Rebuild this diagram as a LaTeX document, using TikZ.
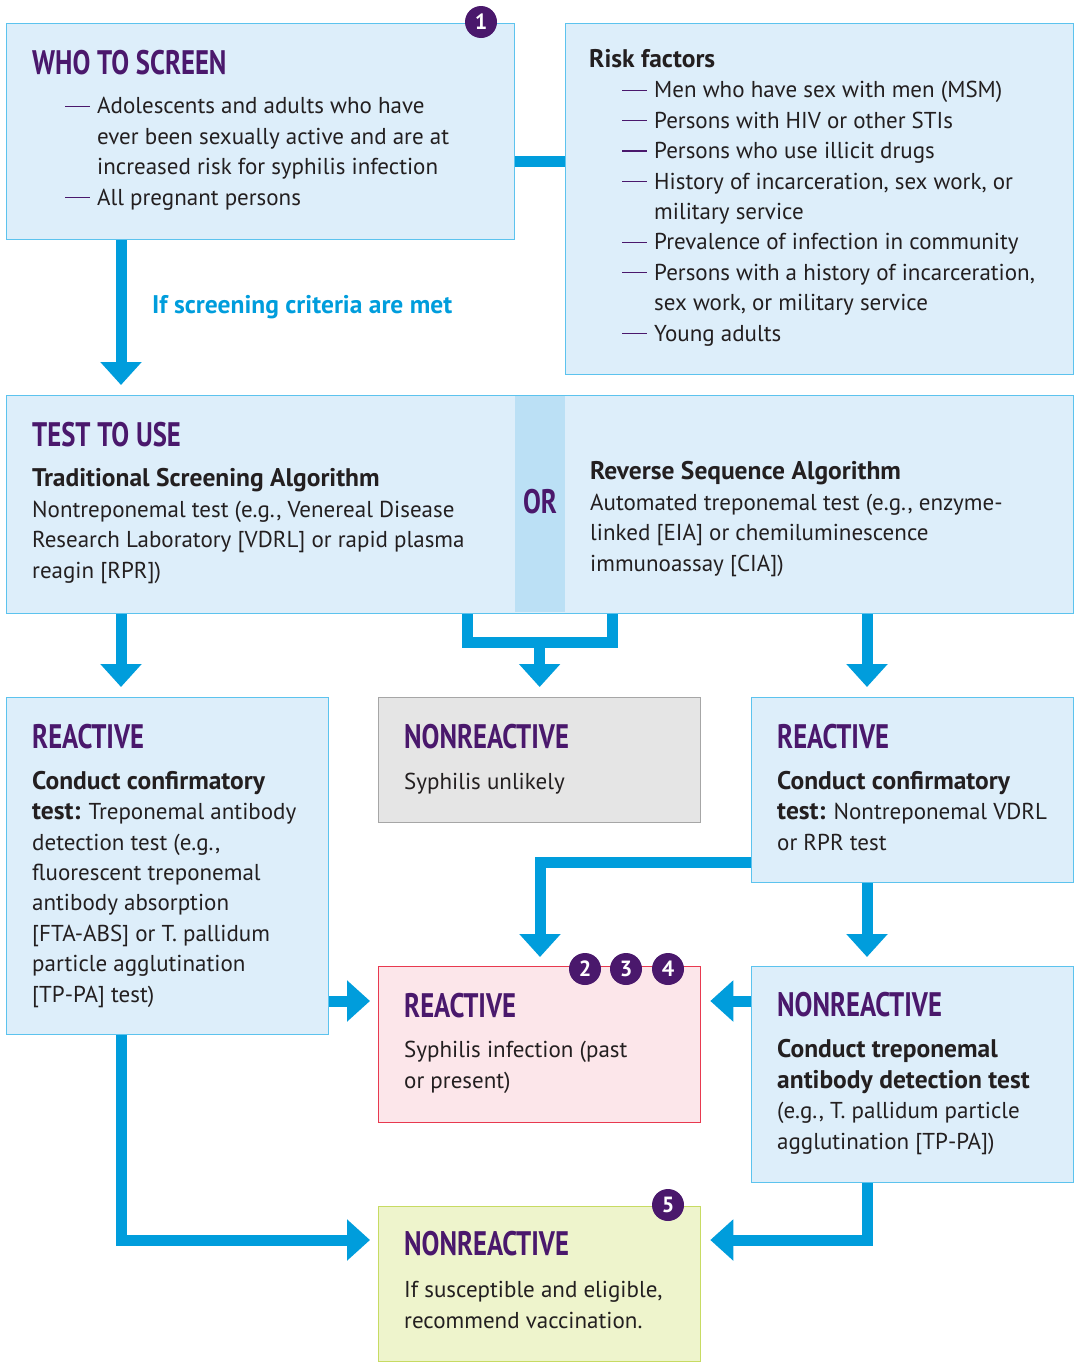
\documentclass[tikz,border=0pt]{standalone}
\usepackage{fontspec}
\setmainfont{PT Sans}
\newfontfamily\headfont[FakeStretch=0.785]{PT Sans}
\usetikzlibrary{arrows.meta}

\definecolor{boxblue}{HTML}{DDEEFA}
\definecolor{lineblue}{HTML}{5CC3EE}
\definecolor{orblue}{HTML}{BBE0F5}
\definecolor{arrowblue}{HTML}{009DDC}
\definecolor{plum}{HTML}{4A186C}
\definecolor{greyfill}{HTML}{E5E5E5}
\definecolor{greyline}{HTML}{A6A6A6}
\definecolor{pinkfill}{HTML}{FCE6EA}
\definecolor{pinkline}{HTML}{E8394F}
\definecolor{greenfill}{HTML}{EEF4CC}
\definecolor{greenline}{HTML}{C7DB63}
\definecolor{ink}{HTML}{231F20}

\newcommand\rdash{\makebox[32pt][l]{\textcolor{plum}{\rule[7pt]{25pt}{1.2pt}}}}
\newcommand\indline{\hspace*{32pt}}
\newcommand\bsub[1]{{\fontsize{25.5}{30.4}\selectfont\bfseries #1}}

\begin{document}
\begin{tikzpicture}[x=1pt,y=-1pt,
        bluebox/.style={rectangle, draw=lineblue, fill=boxblue, line width=1.3pt, anchor=north west, inner sep=0pt},
        greybox/.style={bluebox, draw=greyline, fill=greyfill},
        pinkbox/.style={bluebox, draw=pinkline, fill=pinkfill},
        greenbox/.style={bluebox, draw=greenline, fill=greenfill},
        head/.style={anchor=base west, inner sep=0pt, text=plum, font=\headfont\bfseries\fontsize{34}{34}\selectfont},
        txt/.style={anchor=base west, align=left, inner sep=0pt, text=ink, font=\fontsize{23}{30.4}\selectfont},
        badge/.style={circle, fill=plum, text=white, inner sep=0pt, minimum size=32pt, font=\bfseries\fontsize{22}{22}\selectfont},
        link/.style={draw=arrowblue, line width=11pt},
        flow/.style={link, -{Triangle[width=40pt,length=23pt]}},
        ]

        \useasboundingbox (0,0) rectangle (1077,1363);

        % boxes
        \node[bluebox, minimum width=508pt, minimum height=216pt] (who) at (6,23) {};
        \node[bluebox, minimum width=508pt, minimum height=351pt] (risk) at (565,23) {};
        \node[bluebox, minimum width=1067pt, minimum height=218pt] (test) at (6,395) {};
        \node[rectangle, fill=orblue, inner sep=0pt, minimum width=50pt, minimum height=216pt] (orbar) at (540,504) {};
        \node[bluebox, minimum width=322pt, minimum height=337pt] (reactL) at (6,697) {};
        \node[greybox, minimum width=322pt, minimum height=125pt] (nonG) at (378,697) {};
        \node[bluebox, minimum width=322pt, minimum height=185pt] (reactR) at (751,697) {};
        \node[pinkbox, minimum width=322pt, minimum height=156pt] (reactP) at (378,966) {};
        \node[bluebox, minimum width=322pt, minimum height=216pt] (nonR) at (751,966) {};
        \node[greenbox, minimum width=322pt, minimum height=155pt] (vacc) at (378,1206) {};

        % texts (multi-line nodes sit on their last baseline)
        \node[head] (whoT) at (32,74) {WHO TO SCREEN};
        \node[txt] (whoB) at (65,205) {\rdash Adolescents and adults who have\\
            \indline ever been sexually active and are at\\
            \indline increased risk for syphilis infection\\
            \rdash All pregnant persons};

        \node[txt] (riskT) at (589,67) {\bsub{Risk factors}};
        \node[txt] (riskB) at (622,341) {\rdash Men who have sex with men (MSM)\\
            \rdash Persons with HIV or other STIs\\
            \rdash Persons who use illicit drugs\\
            \rdash History of incarceration, sex work, or\\
            \indline military service\\
            \rdash Prevalence of infection in community\\
            \rdash Persons with a history of incarceration,\\
            \indline sex work, or military service\\
            \rdash Young adults};

        \node[txt, text=arrowblue] (critL) at (152,313) {\bsub{If screening criteria are met}};

        \node[head] (testT) at (32,446) {TEST TO USE};
        \node[txt] (tradB) at (32,578) {\bsub{Traditional Screening Algorithm}\\
            Nontreponemal test (e.g., Venereal Disease\\
            Research Laboratory [VDRL] or rapid plasma\\
            reagin [RPR])};
        \node[head, anchor=base] (orT) at (540,513) {OR};
        \node[txt] (revB) at (590,571) {\bsub{Reverse Sequence Algorithm}\\
            Automated treponemal test (e.g., enzyme-\\
            linked [EIA] or chemiluminescence\\
            immunoassay [CIA])};

        \node[head] (reactLT) at (32,748) {REACTIVE};
        \node[txt] (reactLB) at (32,1002) {\bsub{Conduct confirmatory}\\
            \bsub{test:} Treponemal antibody\\
            detection test (e.g.,\\
            fluorescent treponemal\\
            antibody absorption\\{}%
            [FTA-ABS] or T. pallidum\\
            particle agglutination\\{}%
            [TP-PA] test)};

        \node[head] (nonGT) at (404,748) {NONREACTIVE};
        \node[txt] (nonGB) at (404,789) {Syphilis unlikely};

        \node[head] (reactRT) at (777,748) {REACTIVE};
        \node[txt] (reactRB) at (777,850) {\bsub{Conduct confirmatory}\\
            \bsub{test:} Nontreponemal VDRL\\
            or RPR test};

        \node[head] (reactPT) at (404,1017) {REACTIVE};
        \node[txt] (reactPB) at (404,1088) {Syphilis infection (past\\
            or present)};

        \node[head] (nonRT) at (777,1016) {NONREACTIVE};
        \node[txt] (nonRB) at (777,1149) {\bsub{Conduct treponemal}\\
            \bsub{antibody detection test}\\
            (e.g., T. pallidum particle\\
            agglutination [TP-PA])};

        \node[head] (vaccT) at (404,1255) {NONREACTIVE};
        \node[txt] (vaccB) at (404,1328) {If susceptible and eligible,\\
            recommend vaccination.};

        % connectors
        \coordinate (colL) at (121,0);
        \coordinate (colR) at (867,0);
        \coordinate (legL) at (467,642);
        \coordinate (legR) at (612,642);
        \coordinate (turnA) at (540,862);
        \coordinate (rowP) at (0,1001);
        \coordinate (rowV) at (0,1240);

        \draw[link] ([yshift=-30pt]who.east) -- ([yshift=-30pt]who.east -| risk.west);
        \draw[flow, shorten >=10pt] (colL |- who.south) -- (colL |- test.north);

        \draw[flow, shorten >=10pt] (colL |- test.south) -- (colL |- reactL.north);
        \draw[flow, shorten >=10pt] (colR |- test.south) -- (colR |- reactR.north);
        \draw[link] (legL |- test.south) -- (legL) -- (legR) -- (legR |- test.south);
        \draw[flow, shorten >=10pt] (legL -| nonG.north) -- (nonG.north);

        \draw[flow, shorten >=9pt] (turnA -| reactR.west) -- (turnA) -- (turnA |- reactP.north);
        \draw[flow, shorten >=9pt] (colR |- reactR.south) -- (colR |- nonR.north);

        \draw[flow, shorten >=8pt] (rowP -| reactL.east) -- (rowP -| reactP.west);
        \draw[flow, shorten >=9pt] (rowP -| nonR.west) -- (rowP -| reactP.east);

        \draw[flow, shorten >=8pt] (colL |- reactL.south) -- (colL |- rowV) -- (rowV -| vacc.west);
        \draw[flow, shorten >=9pt] (colR |- nonR.south) -- (colR |- rowV) -- (rowV -| vacc.east);

        % badges
        \node[badge] (b1) at (481,22) {1};
        \node[badge] (b2) at (585,969) {2};
        \node[badge] (b3) at (626,969) {3};
        \node[badge] (b4) at (668,969) {4};
        \node[badge] (b5) at (668,1205) {5};
\end{tikzpicture}
\end{document}
